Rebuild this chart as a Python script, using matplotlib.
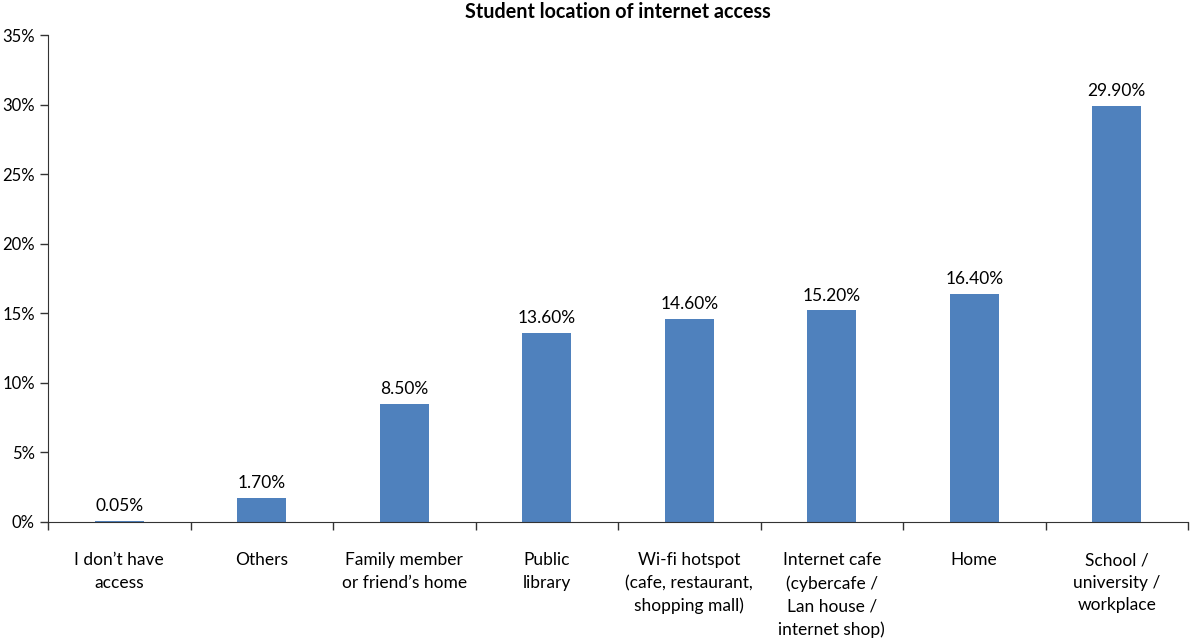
import numpy as np
import matplotlib.pyplot as plt
from matplotlib.ticker import FixedLocator, PercentFormatter

categories = ['I don\u2019t have\naccess', 'Others', 'Family member\nor friend\u2019s home',
              'Public\nlibrary', 'Wi-fi hotspot\n(cafe, restaurant,\nshopping mall)',
              'Internet cafe\n(cybercafe /\nLan house /\ninternet shop)', 'Home',
              'School /\nuniversity /\nworkplace']
values = [0.05, 1.70, 8.50, 13.60, 14.60, 15.20, 16.40, 29.90]
labels = ['0.05%', '1.70%', '8.50%', '13.60%', '14.60%', '15.20%', '16.40%', '29.90%']

plt.rcParams['font.family'] = ['Lato', 'DejaVu Sans']

fig = plt.figure(figsize=(12, 6.38), dpi=100)
ax = fig.add_axes([0.04, 0.182, 0.95, 0.763])

x = np.arange(len(values))
ax.bar(x, values, width=0.345, color='#4F81BD')
for xi, v, lab in zip(x, values, labels):
    ax.text(xi, v + 0.5, lab, ha='center', va='bottom', fontsize=12.5)

ax.set_xlim(-0.5, len(values) - 0.5)
ax.set_ylim(0, 35)
ax.set_yticks(np.arange(0, 36, 5))
ax.yaxis.set_major_formatter(PercentFormatter(decimals=0))

ax.xaxis.set_major_locator(FixedLocator(np.arange(-0.5, len(values), 1.0)))
ax.xaxis.set_minor_locator(FixedLocator(x))
ax.set_xticklabels([])
ax.set_xticklabels(categories, minor=True, fontsize=12.5, va='top', linespacing=1.5)
ax.tick_params(axis='x', which='major', length=6, width=1, color='#333333')
ax.tick_params(axis='x', which='minor', length=0, pad=22)
ax.tick_params(axis='y', length=6, width=1, color='#333333', labelsize=12)

for s in ['top', 'right']:
    ax.spines[s].set_visible(False)
for s in ['left', 'bottom']:
    ax.spines[s].set_color('#333333')

ax.set_title('Student location of internet access', fontsize=14.2, fontweight='bold', pad=12)

fig.savefig('out.png', dpi=100)
